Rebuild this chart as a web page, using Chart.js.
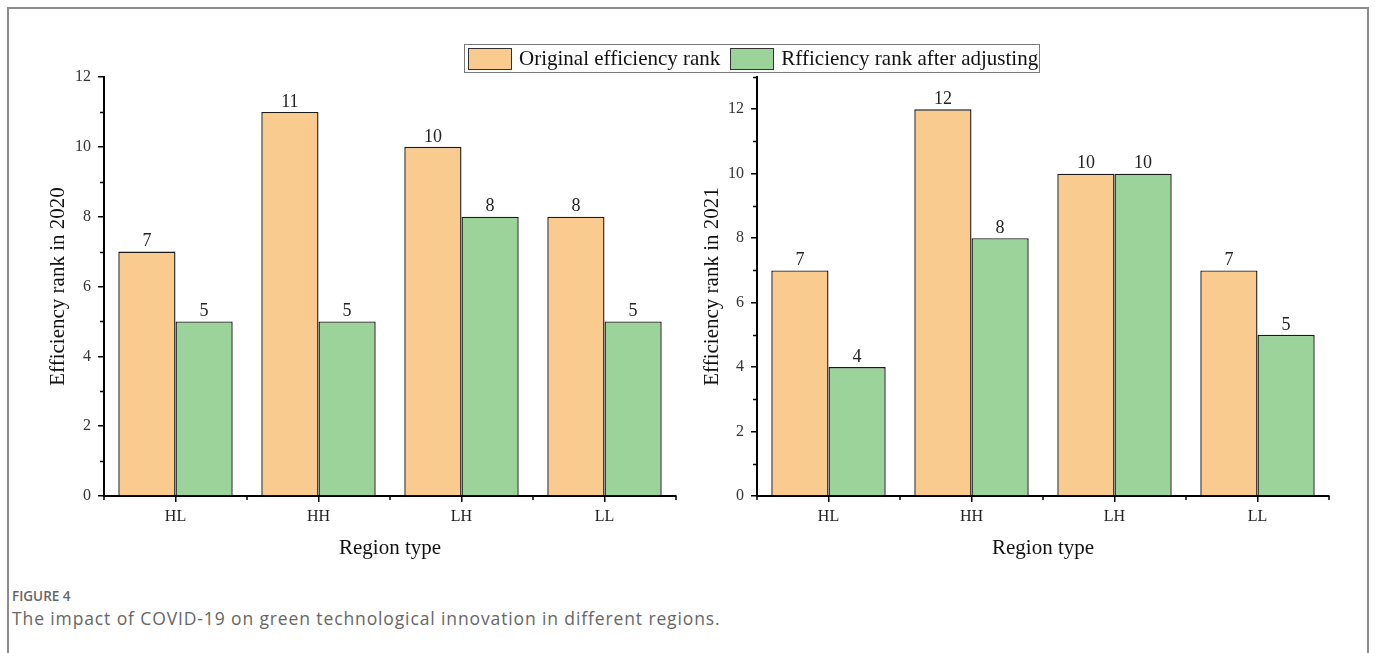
<!DOCTYPE html>
<html>
<head>
<meta charset="utf-8">
<script src="https://cdn.jsdelivr.net/npm/chart.js@4/dist/chart.umd.min.js"></script>
<style>
  html, body { margin: 0; padding: 0; background: #fff; }
  body { width: 1375px; height: 653px; position: relative; overflow: hidden; }
  #frame { position: absolute; left: 7px; top: 7px; width: 1362px; height: 700px;
           border: 2px solid #8c8c8c; box-sizing: border-box; }
  canvas { position: absolute; top: 0; }
  #c2020 { left: 0; }
  #c2021 { left: 690px; }
  #legend { position: absolute; left: 464px; top: 44px; height: 29px; width: 576px;
            border: 1px solid #7a7a7a; box-sizing: border-box; display: flex; align-items: center;
            font-family: "Liberation Serif", "Times New Roman", serif; font-size: 21px; color: #111; }
  #legend .item { display: flex; align-items: center; margin-left: 3px; margin-right: 7px; white-space: nowrap; }
  #legend .sw { width: 44px; height: 22px; border: 1px solid #333; box-sizing: border-box; margin-right: 7px; }
  #figlabel { position: absolute; left: 12px; top: 587px; font-family: "Open Sans", sans-serif;
              font-size: 13.5px; font-weight: 600; color: #666; }
  #caption { position: absolute; left: 12px; top: 606px; font-family: "Open Sans", sans-serif;
             font-size: 17.5px; letter-spacing: 0.88px; color: #666; white-space: nowrap; }
</style>
</head>
<body>
<div id="frame"></div>
<canvas id="c2020" width="690" height="580"></canvas>
<canvas id="c2021" width="685" height="580"></canvas>
<div id="legend"></div>
<div id="figlabel">FIGURE 4</div>
<div id="caption">The impact of COVID-19 on green technological innovation in different regions.</div>
<script>
// Region categories and the two rank series for each year
const regions = ['HL', 'HH', 'LH', 'LL'];
const seriesNames = ['Original efficiency rank', 'Rfficiency rank after adjusting'];
const original2020 = [7, 11, 10, 8];
const adjusted2020 = [5, 5, 8, 5];
const original2021 = [7, 12, 10, 7];
const adjusted2021 = [4, 8, 10, 5];

const ORANGE = '#F9CB8F';
const GREEN = '#9BD39B';
const SERIF = '"Liberation Serif", "Times New Roman", serif';

// Legend shared by both panels
const legendEl = document.getElementById('legend');
[ORANGE, GREEN].forEach((c, i) => {
  const it = document.createElement('div');
  it.className = 'item';
  const sw = document.createElement('div');
  sw.className = 'sw';
  sw.style.background = c;
  const tx = document.createElement('span');
  tx.textContent = seriesNames[i];
  it.appendChild(sw); it.appendChild(tx);
  legendEl.appendChild(it);
});

// Value labels on top of each bar, plus minor ticks on both axes
const barDecor = {
  id: 'barDecor',
  afterDatasetsDraw(chart) {
    const ctx = chart.ctx;
    ctx.save();
    ctx.fillStyle = '#222';
    ctx.font = '18px ' + SERIF;
    ctx.textAlign = 'center';
    ctx.textBaseline = 'bottom';
    chart.data.datasets.forEach((ds, di) => {
      chart.getDatasetMeta(di).data.forEach((bar, i) => {
        ctx.fillText(String(ds.data[i]), bar.x, bar.y - 1);
      });
    });
    // minor ticks
    const xs = chart.scales.x, ys = chart.scales.y;
    ctx.strokeStyle = '#000';
    ctx.lineWidth = 1.5;
    ctx.beginPath();
    for (let v = 1; v <= ys.max; v += 2) {
      const py = Math.round(ys.getPixelForValue(v)) + 0.5;
      ctx.moveTo(ys.right, py); ctx.lineTo(ys.right - 4, py);
    }
    const n = chart.data.labels.length;
    for (let i = 0; i <= n; i++) {
      const px = xs.getPixelForValue(i - 0.5);
      ctx.moveTo(px, xs.top); ctx.lineTo(px, xs.top + 4);
    }
    ctx.stroke();
    ctx.restore();
  }
};

function makeChart(id, orig, adj, yMax, yTitle, yWidth, padRight, titlePad) {
  return new Chart(document.getElementById(id), {
    type: 'bar',
    data: {
      labels: regions,
      datasets: [
        { label: seriesNames[0], data: orig, backgroundColor: ORANGE, borderColor: '#1a1a1a', borderWidth: 1.4 },
        { label: seriesNames[1], data: adj, backgroundColor: GREEN, borderColor: '#1a1a1a', borderWidth: 1.4 }
      ]
    },
    options: {
      responsive: false,
      devicePixelRatio: 1,
      animation: false,
      categoryPercentage: 0.8,
      barPercentage: 1.0,
      layout: { padding: { left: 0, right: padRight, top: 77, bottom: 0 } },
      plugins: { legend: { display: false }, tooltip: { enabled: false } },
      scales: {
        x: {
          grid: { display: true, drawOnChartArea: false, drawTicks: true, tickLength: 6,
                  offset: false, color: '#000', lineWidth: 1.5 },
          border: { display: true, color: '#000', width: 2 },
          ticks: { color: '#222', font: { family: SERIF, size: 16 }, padding: 5, maxRotation: 0 },
          title: { display: true, text: 'Region type', color: '#111',
                   font: { family: SERIF, size: 21 }, padding: { top: 0, bottom: 19 } },
          afterFit(s) { s.height = 84; }
        },
        y: {
          min: 0, max: yMax,
          grid: { display: true, drawOnChartArea: false, drawTicks: true, tickLength: 6,
                  color: '#000', lineWidth: 1.5,
                  tickColor: (c) => (c.tick && c.tick.value % 2 === 0) ? '#000' : 'rgba(0,0,0,0)' },
          border: { display: true, color: '#000', width: 2 },
          ticks: { stepSize: 2, color: '#333', font: { family: SERIF, size: 16 }, padding: 7,
                   callback: (v) => (v % 2 === 0 ? String(v) : '') },
          title: { display: true, text: yTitle, color: '#111',
                   font: { family: SERIF, size: 21 }, padding: { top: titlePad, bottom: 0 } },
          afterFit(s) { s.width = yWidth; }
        }
      }
    },
    plugins: [barDecor]
  });
}

makeChart('c2020', original2020, adjusted2020, 12, 'Efficiency rank in 2020', 104, 14, 46);
makeChart('c2021', original2021, adjusted2021, 13, 'Efficiency rank in 2021', 67, 46, 9.5);
</script>
</body>
</html>
